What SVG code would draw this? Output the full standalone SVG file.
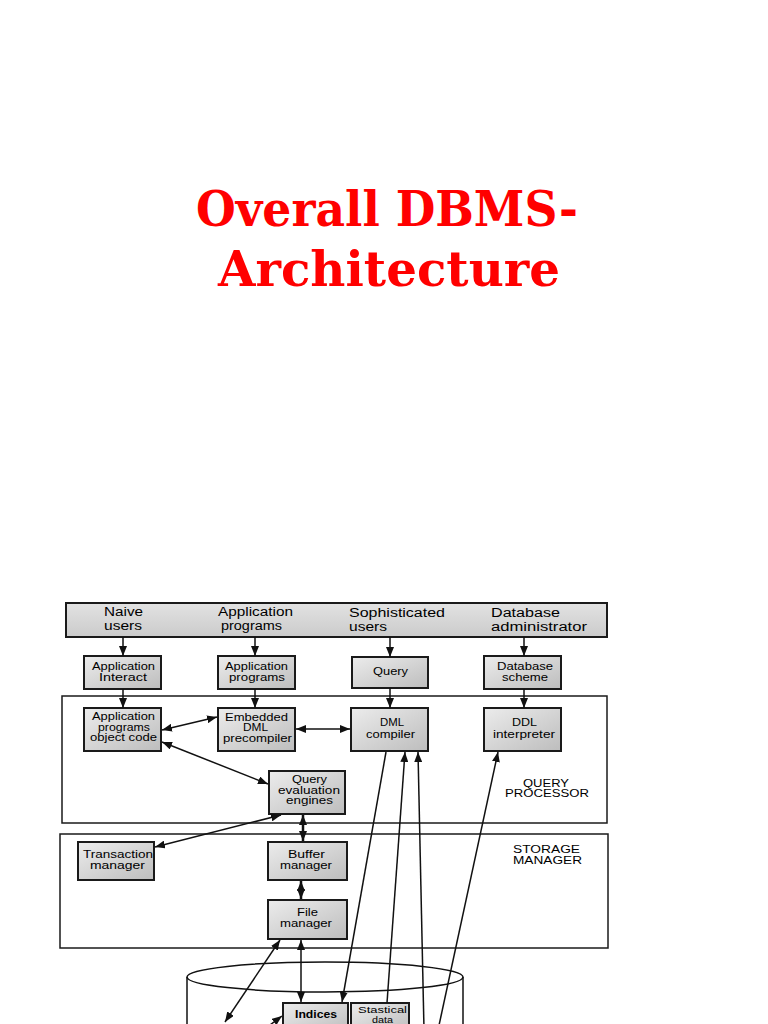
<svg xmlns="http://www.w3.org/2000/svg" width="768" height="1024" viewBox="0 0 768 1024">
<defs>
<linearGradient id="bx" x1="0" y1="0" x2="1" y2="1">
<stop offset="0" stop-color="#ececec"/>
<stop offset="1" stop-color="#bdbdbd"/>
</linearGradient>
<linearGradient id="bn" x1="0" y1="0" x2="0" y2="1">
<stop offset="0" stop-color="#e2e2e2"/>
<stop offset="1" stop-color="#cbcbcb"/>
</linearGradient>
<marker id="ah" viewBox="0 0 10 8" refX="10" refY="4" markerWidth="10" markerHeight="8" markerUnits="userSpaceOnUse" orient="auto-start-reverse">
<path d="M0,0 L10,4 L0,8 z" fill="#111"/>
</marker>
</defs>
<style>
.title{font-family:"DejaVu Serif",serif;font-weight:bold;font-size:48px;fill:#ff0000;text-anchor:middle}
.box{fill:url(#bx);stroke:#1a1a1a;stroke-width:2}
.frame{fill:none;stroke:#1a1a1a;stroke-width:1.5}
.t{font-family:"Liberation Sans",Arial,sans-serif;font-size:10px;fill:#000}
.ts{font-family:"Liberation Sans",Arial,sans-serif;font-size:9.5px;fill:#000}
.tb{font-family:"Liberation Sans",Arial,sans-serif;font-size:12.5px;fill:#000}
.ti{font-family:"Liberation Sans",Arial,sans-serif;font-size:11.5px;font-weight:bold;fill:#000}
.c{fill:none;stroke:#111;stroke-width:1.5}
.ck{fill:none;stroke:#111;stroke-width:2.5}
</style>
<rect width="768" height="1024" fill="#ffffff"/>

<g id="title">
<text class="title" x="387" y="226" textLength="382" lengthAdjust="spacingAndGlyphs">Overall DBMS-</text>
<text class="title" x="389" y="286" textLength="342" lengthAdjust="spacingAndGlyphs">Architecture</text>
</g>

<g id="frames">
<rect class="frame" x="62" y="696" width="545" height="127"/>
<rect class="frame" x="60" y="834" width="548" height="114"/>
<g id="query-processor-label">
<text class="t" x="523" y="786.5" textLength="46" lengthAdjust="spacingAndGlyphs">QUERY</text>
<text class="t" x="505" y="797" textLength="84" lengthAdjust="spacingAndGlyphs">PROCESSOR</text>
</g>
<g id="storage-manager-label">
<text class="t" x="513" y="853" textLength="67" lengthAdjust="spacingAndGlyphs">STORAGE</text>
<text class="t" x="513" y="863.5" textLength="69" lengthAdjust="spacingAndGlyphs">MANAGER</text>
</g>
</g>

<g id="disk">
<line class="c" x1="187" y1="977" x2="187" y2="1030"/>
<line class="c" x1="463" y1="977" x2="463" y2="1030"/>
<ellipse cx="325" cy="977" rx="138" ry="15" fill="none" stroke="#111" stroke-width="1.5"/>
</g>

<g id="users-banner">
<rect x="66" y="603" width="541" height="34" fill="url(#bn)" stroke="#1a1a1a" stroke-width="2"/>
<text class="tb" x="104" y="616" textLength="39" lengthAdjust="spacingAndGlyphs">Naive</text>
<text class="tb" x="104" y="629.5" textLength="38" lengthAdjust="spacingAndGlyphs">users</text>
<text class="tb" x="218" y="616" textLength="75" lengthAdjust="spacingAndGlyphs">Application</text>
<text class="tb" x="221" y="629.5" textLength="61" lengthAdjust="spacingAndGlyphs">programs</text>
<text class="tb" x="349" y="617" textLength="96" lengthAdjust="spacingAndGlyphs">Sophisticated</text>
<text class="tb" x="349" y="631" textLength="38" lengthAdjust="spacingAndGlyphs">users</text>
<text class="tb" x="491" y="617" textLength="69" lengthAdjust="spacingAndGlyphs">Database</text>
<text class="tb" x="491" y="631" textLength="96" lengthAdjust="spacingAndGlyphs">administrator</text>
</g>

<g id="app-interact">
<rect class="box" x="84" y="656" width="77" height="33"/>
<text class="t" x="92" y="669.5" textLength="63" lengthAdjust="spacingAndGlyphs">Application</text>
<text class="t" x="99" y="681" textLength="48" lengthAdjust="spacingAndGlyphs">Interact</text>
</g>
<g id="app-programs">
<rect class="box" x="218" y="656" width="77" height="33"/>
<text class="t" x="225" y="669.5" textLength="63" lengthAdjust="spacingAndGlyphs">Application</text>
<text class="t" x="229" y="681" textLength="56" lengthAdjust="spacingAndGlyphs">programs</text>
</g>
<g id="query">
<rect class="box" x="352" y="657" width="76" height="31"/>
<text class="t" x="373" y="675" textLength="35" lengthAdjust="spacingAndGlyphs">Query</text>
</g>
<g id="db-scheme">
<rect class="box" x="484" y="656" width="77" height="33"/>
<text class="t" x="497" y="669.5" textLength="56" lengthAdjust="spacingAndGlyphs">Database</text>
<text class="t" x="502" y="680.5" textLength="46" lengthAdjust="spacingAndGlyphs">scheme</text>
</g>

<g id="object-code">
<rect class="box" x="84" y="708" width="77" height="43"/>
<text class="t" x="92" y="720" textLength="63" lengthAdjust="spacingAndGlyphs">Application</text>
<text class="t" x="98" y="730.5" textLength="52" lengthAdjust="spacingAndGlyphs">programs</text>
<text class="t" x="90" y="741" textLength="67" lengthAdjust="spacingAndGlyphs">object code</text>
</g>
<g id="dml-precompiler">
<rect class="box" x="218" y="708" width="77" height="43"/>
<text class="t" x="225" y="720.5" textLength="63" lengthAdjust="spacingAndGlyphs">Embedded</text>
<text class="t" x="243" y="731" textLength="25" lengthAdjust="spacingAndGlyphs">DML</text>
<text class="t" x="223" y="741.5" textLength="69" lengthAdjust="spacingAndGlyphs">precompiler</text>
</g>
<g id="dml-compiler">
<rect class="box" x="351" y="708" width="77" height="43"/>
<text class="t" x="380" y="726" textLength="24" lengthAdjust="spacingAndGlyphs">DML</text>
<text class="t" x="366" y="737.5" textLength="49" lengthAdjust="spacingAndGlyphs">compiler</text>
</g>
<g id="ddl-interpreter">
<rect class="box" x="484" y="708" width="77" height="43"/>
<text class="t" x="512" y="726" textLength="25" lengthAdjust="spacingAndGlyphs">DDL</text>
<text class="t" x="493" y="737.5" textLength="62" lengthAdjust="spacingAndGlyphs">interpreter</text>
</g>
<g id="query-eval">
<rect class="box" x="269" y="771" width="76" height="43"/>
<text class="t" x="292" y="783" textLength="35" lengthAdjust="spacingAndGlyphs">Query</text>
<text class="t" x="278" y="793.5" textLength="62" lengthAdjust="spacingAndGlyphs">evaluation</text>
<text class="t" x="286" y="804" textLength="47" lengthAdjust="spacingAndGlyphs">engines</text>
</g>
<g id="transaction-manager">
<rect class="box" x="78" y="842" width="76" height="38"/>
<text class="t" x="83" y="857.5" textLength="70" lengthAdjust="spacingAndGlyphs">Transaction</text>
<text class="t" x="90" y="869" textLength="55" lengthAdjust="spacingAndGlyphs">manager</text>
</g>
<g id="buffer-manager">
<rect class="box" x="268" y="842" width="79" height="38"/>
<text class="t" x="288" y="857.5" textLength="37" lengthAdjust="spacingAndGlyphs">Buffer</text>
<text class="t" x="280" y="869" textLength="52" lengthAdjust="spacingAndGlyphs">manager</text>
</g>
<g id="file-manager">
<rect class="box" x="268" y="900" width="79" height="39"/>
<text class="t" x="297" y="915.5" textLength="21" lengthAdjust="spacingAndGlyphs">File</text>
<text class="t" x="280" y="927" textLength="52" lengthAdjust="spacingAndGlyphs">manager</text>
</g>
<g id="indices">
<rect class="box" x="283" y="1003" width="65" height="30"/>
<text class="ti" x="295" y="1018" textLength="42" lengthAdjust="spacingAndGlyphs">Indices</text>
</g>
<g id="statistical-data">
<rect class="box" x="351" y="1003" width="58" height="30"/>
<text class="ts" x="358" y="1012.5" textLength="49" lengthAdjust="spacingAndGlyphs">Stastical</text>
<text class="ts" x="372" y="1023" textLength="21" lengthAdjust="spacingAndGlyphs">data</text>
</g>

<g id="connectors">
<line class="c" x1="123" y1="637" x2="123" y2="656" marker-end="url(#ah)"/>
<line class="c" x1="255" y1="637" x2="255" y2="656" marker-end="url(#ah)"/>
<line class="c" x1="390" y1="637" x2="390" y2="657" marker-end="url(#ah)"/>
<line class="c" x1="524" y1="637" x2="524" y2="656" marker-end="url(#ah)"/>
<line class="c" x1="123" y1="689" x2="123" y2="708" marker-end="url(#ah)"/>
<line class="c" x1="255" y1="689" x2="255" y2="708" marker-end="url(#ah)"/>
<line class="c" x1="390" y1="688" x2="390" y2="708" marker-end="url(#ah)"/>
<line class="c" x1="524" y1="689" x2="524" y2="708" marker-end="url(#ah)"/>
<line class="c" x1="162" y1="730" x2="217" y2="717" marker-start="url(#ah)" marker-end="url(#ah)"/>
<line class="c" x1="296" y1="729" x2="350" y2="729" marker-start="url(#ah)" marker-end="url(#ah)"/>
<line class="c" x1="162" y1="742" x2="268" y2="784" marker-start="url(#ah)" marker-end="url(#ah)"/>
<line class="ck" x1="303" y1="815" x2="303" y2="841" marker-start="url(#ah)" marker-end="url(#ah)"/>
<line class="c" x1="281" y1="815" x2="155" y2="847" marker-start="url(#ah)" marker-end="url(#ah)"/>
<line class="ck" x1="301" y1="881" x2="301" y2="899" marker-start="url(#ah)" marker-end="url(#ah)"/>
<line class="c" x1="301" y1="940" x2="301" y2="1002" marker-start="url(#ah)" marker-end="url(#ah)"/>
<line class="c" x1="280" y1="940" x2="225" y2="1022" marker-start="url(#ah)" marker-end="url(#ah)"/>
<line class="c" x1="386" y1="752" x2="342" y2="1002" marker-end="url(#ah)"/>
<line class="c" x1="387" y1="1003" x2="405" y2="752" marker-end="url(#ah)"/>
<line class="c" x1="424" y1="1030" x2="418" y2="752" marker-end="url(#ah)"/>
<line class="c" x1="438" y1="1030" x2="498" y2="752" marker-end="url(#ah)"/>
<line class="c" x1="266" y1="1028" x2="282" y2="1016" marker-end="url(#ah)"/>
</g>
</svg>
